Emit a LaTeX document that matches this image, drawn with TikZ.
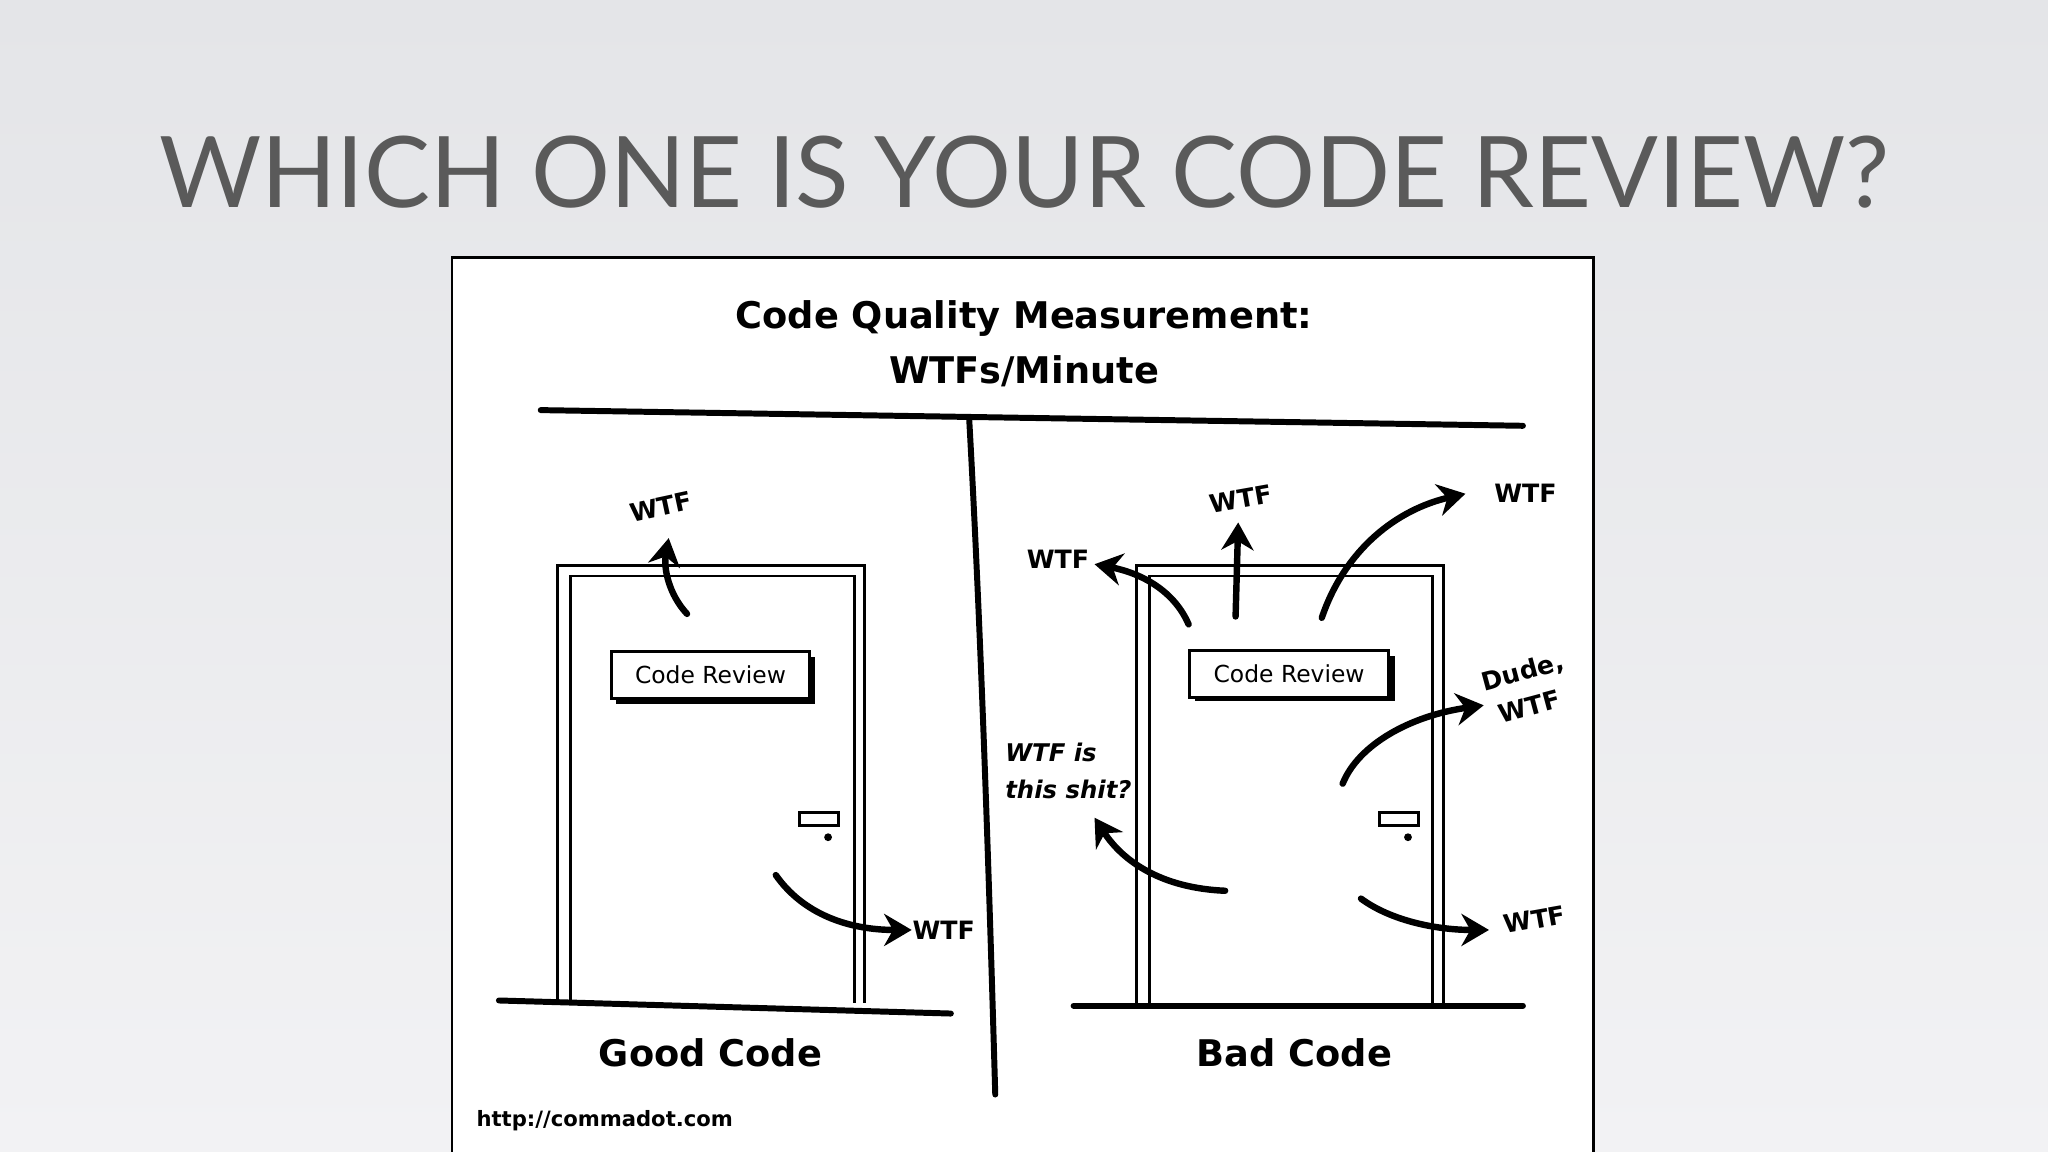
\documentclass[tikz,border=0pt]{standalone}
\usepackage{fontspec}
\setmainfont{Lato}
\newfontfamily\comic{DejaVu Sans}
\usetikzlibrary{arrows.meta}
\definecolor{bgtop}{HTML}{E4E5E8}
\definecolor{bgbot}{HTML}{F2F2F4}
\definecolor{titlegray}{HTML}{5A5A5A}
\tikzset{
 frame/.style={draw=black,line width=0.6pt},
 heavy/.style={draw=black,line width=1.3pt,line cap=round},
 wtfarrow/.style={draw=black,line width=1.4pt,line cap=round,-{Stealth[length=6pt,width=7pt]}},
 lbl/.style={font=\comic\bfseries\fontsize{5.5}{7.5}\selectfont,inner sep=0pt},
 big/.style={font=\comic\bfseries\fontsize{8}{10}\selectfont,inner sep=0pt},
 sign/.style={draw=black,line width=0.6pt,fill=white,minimum width=1.52cm,minimum height=0.36cm,font=\comic\fontsize{5.1}{6}\selectfont,inner sep=0pt},
}
\begin{document}
\begin{tikzpicture}[x=0.01cm,y=-0.01cm]
\useasboundingbox (0,0) rectangle (1568,882);
\shade[top color=bgtop,bottom color=bgbot] (0,0) rectangle (1568,882);
\node[font=\fontsize{21.5}{24}\selectfont,text=titlegray,inner sep=0pt] (title) at (784,132) {WHICH ONE IS YOUR CODE REVIEW?};
\draw[fill=white,draw=black,line width=0.6pt] (346,197) rectangle (1220,884);
\node[big,align=center] (ct) at (784,263) {Code Quality Measurement:\\[2pt]WTFs/Minute};
\draw[heavy] (414,314) -- (1166,326);
\draw[heavy] (742,320) .. controls (752,500) and (758,700) .. (762,838);
% left door
\draw[frame] (427,768) -- (427,433) -- (662,433) -- (662,768);
\draw[frame] (437,768) -- (437,441) -- (654,441) -- (654,768);
\draw[heavy] (382,766) -- (728,776);
\fill (472,503) rectangle (624,539);
\node[sign] (s1) at (544,517) {Code Review};
\draw[frame,fill=white] (612,622) rectangle (642,632);
\fill (634,641) circle (3);
\coordinate (l1a) at (526,470);
\node[lbl,rotate=12] (w1) at (506,388) {WTF};
\draw[wtfarrow] (l1a) .. controls (512,455) and (508,435) .. (512,412);
\coordinate (l2a) at (594,670);
\node[lbl,anchor=west] (w2) at (698,712) {WTF};
\draw[wtfarrow] (l2a) .. controls (615,700) and (650,712) .. (w2.west);
\node[big] (gc) at (544,806) {Good Code};
\node[font=\comic\bfseries\fontsize{4.6}{6}\selectfont,inner sep=0pt] (url) at (463,858) {http://commadot.com};
% right door
\draw[frame] (870,770) -- (870,433) -- (1105,433) -- (1105,770);
\draw[frame] (880,770) -- (880,441) -- (1097,441) -- (1097,770);
\draw[heavy] (822,770) -- (1166,770);
\fill (915,502) rectangle (1068,537);
\node[sign] (s2) at (987,516) {Code Review};
\draw[frame,fill=white] (1056,622) rectangle (1086,632);
\fill (1078,641) circle (3);
\node[lbl] (w3) at (810,428) {WTF};
\coordinate (r1) at (910,478);
\draw[wtfarrow] (r1) .. controls (898,450) and (870,438) .. (838,432);
\node[lbl,rotate=10] (w4) at (950,382) {WTF};
\coordinate (r2) at (946,472);
\draw[wtfarrow] (r2) -- (948,400);
\node[lbl] (w5) at (1168,378) {WTF};
\coordinate (r3) at (1012,473);
\draw[wtfarrow] (r3) .. controls (1030,420) and (1070,390) .. (1122,378);
\node[lbl,rotate=15] (w6) at (1166,515) {Dude,};
\node[lbl,rotate=15] (w6b) at (1171,541) {WTF};
\coordinate (r4) at (1028,600);
\draw[wtfarrow] (r4) .. controls (1040,570) and (1080,548) .. (1136,540);
\node[lbl,align=left,font=\comic\bfseries\itshape\fontsize{5.3}{8}\selectfont] (w7) at (818,590) {WTF is\\this shit?};
\coordinate (r5) at (938,682);
\draw[wtfarrow] (r5) .. controls (890,680) and (860,660) .. (838,626);
\node[lbl,rotate=10] (w8) at (1175,704) {WTF};
\coordinate (r6) at (1042,688);
\draw[wtfarrow] (r6) .. controls (1065,705) and (1100,712) .. (1140,712);
\node[big] (bc) at (991,806) {Bad Code};
\end{tikzpicture}
\end{document}
